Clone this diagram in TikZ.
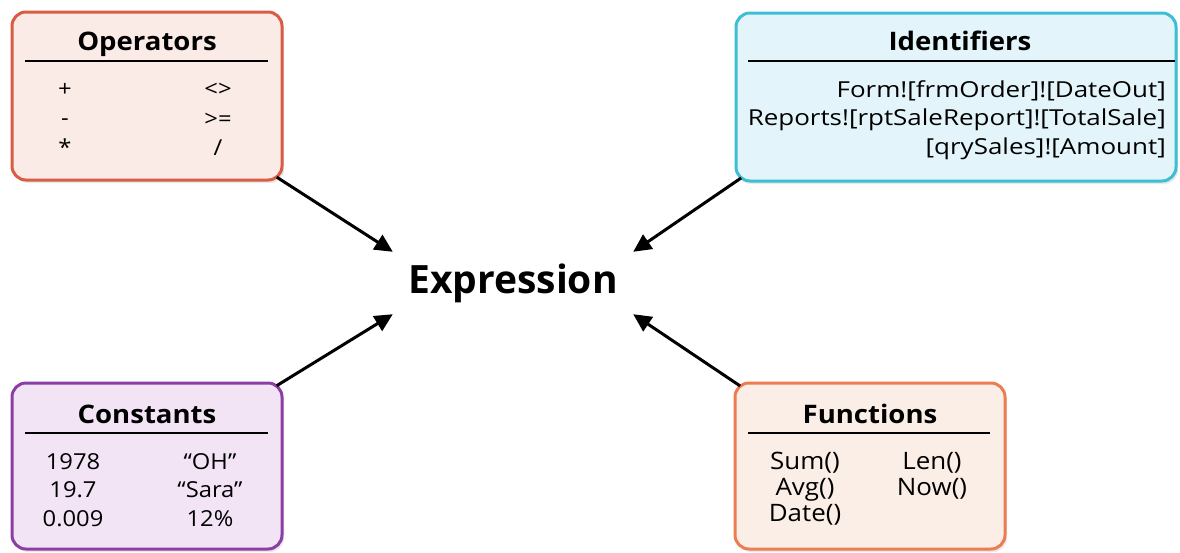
\documentclass[tikz,border=0pt]{standalone}
\usepackage{fontspec}
\setmainfont{Open Sans}
\newfontfamily\boxfont[FakeStretch=1.08]{Open Sans}
\newfontfamily\idffont[FakeStretch=1.18]{Open Sans}
\usetikzlibrary{arrows.meta,shadows}
\definecolor{opsline}{HTML}{D95C45}
\definecolor{opsfill}{HTML}{FBEBE7}
\definecolor{idfline}{HTML}{3CBFD3}
\definecolor{idffill}{HTML}{E3F5FA}
\definecolor{consline}{HTML}{8B3FA5}
\definecolor{consfill}{HTML}{F2E4F5}
\definecolor{funline}{HTML}{EB7D50}
\definecolor{funfill}{HTML}{FBEEE6}

\begin{document}
\begin{tikzpicture}[x=1pt,y=-1pt,
  box/.style={rectangle, rounded corners=14pt, line width=3pt, minimum width=270pt, minimum height=168pt,
    drop shadow={opacity=0.18, shadow xshift=2pt, shadow yshift=-3pt}},
  title/.style={font=\boxfont\bfseries\fontsize{25.5}{30}\selectfont, anchor=base},
  entry/.style={font=\boxfont\fontsize{22}{28.5}\selectfont, align=center, anchor=north, inner sep=0pt,
    execute at begin node=\strut},
  arr/.style={-{Triangle[length=18pt,width=17pt]}, line width=3pt, shorten <=-8pt}]
\useasboundingbox (0,0) rectangle (1180,552);

\node (ops) [box, draw=opsline, fill=opsfill] at (147,96) {};
\node (idf) [box, draw=idfline, fill=idffill, minimum width=440pt] at (956,97) {};
\node (cons) [box, draw=consline, fill=consfill, minimum height=166pt] at (147,466) {};
\node (fun) [box, draw=funline, fill=funfill, minimum height=166pt] at (870,466) {};

\node (opstitle) [title] at (147,50) {Operators};
\node (idftitle) [title] at (960,50) {Identifiers};
\node (constitle) [title] at (147,423) {Constants};
\node (funtitle) [title] at (870,423) {Functions};

\draw [line width=2pt] (25,61) -- (268,61);
\draw [line width=2pt] (748,61) -- (1175,61);
\draw [line width=2pt] (25,433) -- (268,433);
\draw [line width=2pt] (748,433) -- (990,433);

\node (opsa) [entry, font=\boxfont\fontsize{22}{29.5}\selectfont] at (65,83) {+\\-\\*};
\node (opsb) [entry, font=\boxfont\fontsize{22}{29.5}\selectfont] at (218,83) {<>\\>=\\/};
\node (idfa) [entry, font=\idffont\fontsize{22}{28.5}\selectfont, align=right, anchor=north east] at (1166,80) {Form![frmOrder]![DateOut]\\Reports![rptSaleReport]![TotalSale]\\{}[qrySales]![Amount]};
\node (consa) [entry] at (73,453) {1978\\19.7\\0.009};
\node (consb) [entry] at (210,453) {“OH”\\“Sara”\\12\%};
\node (funa) [entry, font=\boxfont\fontsize{24}{26}\selectfont] at (805,452) {Sum()\\Avg()\\Date()};
\node (funb) [entry, font=\boxfont\fontsize{24}{26}\selectfont] at (932,452) {Len()\\Now()};

\node (expr) [minimum width=240pt, minimum height=62pt, font=\bfseries\fontsize{39}{46}\selectfont] at (513,283) {Expression};

\draw [arr] (ops.south east) -- (expr.north west);
\draw [arr] (idf.south west) -- (expr.north east);
\draw [arr] (cons.north east) -- (expr.south west);
\draw [arr] (fun.north west) -- (expr.south east);
\end{tikzpicture}
\end{document}
